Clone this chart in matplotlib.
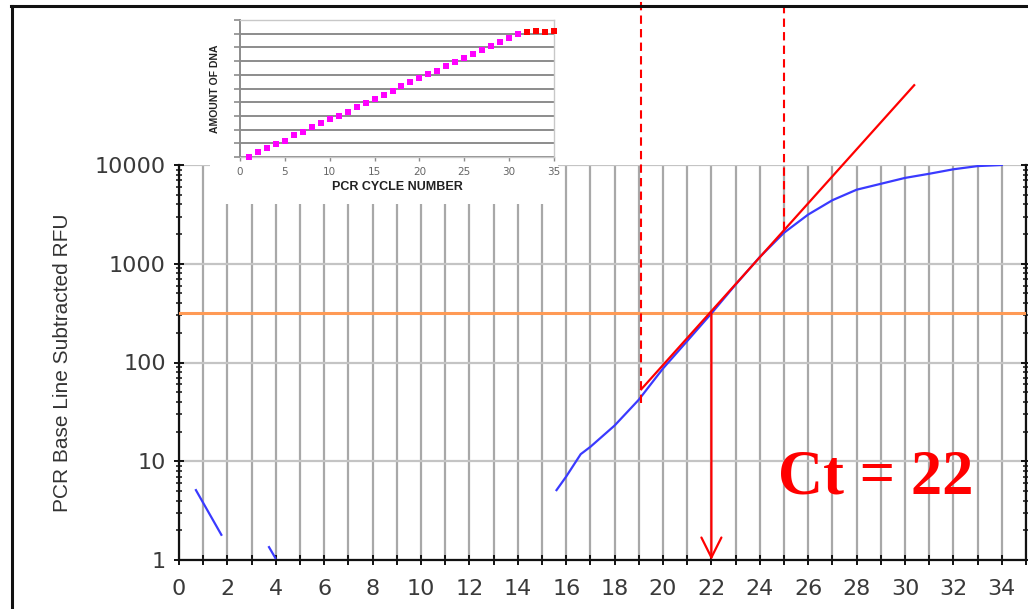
import numpy as np
import matplotlib
matplotlib.use("Agg")
import matplotlib.pyplot as plt
from matplotlib.lines import Line2D
from matplotlib.patches import Rectangle, FancyArrowPatch
from matplotlib.ticker import FixedLocator, NullFormatter, LogLocator

# ---- amplification curve (baseline-subtracted RFU per cycle), three traced pieces
early_cycles = [0.7, 1.75]
early_rfu = [5.1, 1.8]
dip_cycles = [3.72, 3.98]
dip_rfu = [1.35, 1.05]
amp_cycles = [15.6, 16.0, 16.6, 17.0, 18.0, 19.0, 20.0, 21.0, 22.0, 23.0, 24.0,
              25.0, 26.0, 27.0, 28.0, 29.0, 30.0, 31.0, 32.0, 33.0, 34.0]
amp_rfu = [5.1, 7.0, 11.8, 14.0, 23.0, 42.0, 87.0, 165.0, 314.0, 615.0, 1170.0,
           2060.0, 3150.0, 4400.0, 5620.0, 6450.0, 7400.0, 8150.0, 9050.0, 9750.0, 10000.0]

threshold_rfu = 316.0
ct_value = 22
tangent_cycles = [19.1, 30.38]
tangent_rfu = [53.5, 64300.0]
window_cycles = [19.1, 25.0]
window_floor_rfu = [39.0, 2180.0]

x_major_ticks = list(range(0, 35, 2))
x_minor_ticks = list(range(0, 36))
y_major_ticks = [1, 10, 100, 1000, 10000]
y_tick_labels = ["1", "10", "100", "1000", "10000"]

# ---- inset: amount of DNA vs. PCR cycle number
inset_cycles_exp = list(range(1, 32))
inset_amount_exp = [0.0, 0.36, 0.65, 0.97, 1.2, 1.58, 1.8, 2.18, 2.45, 2.8, 3.0, 3.3,
                    3.64, 3.93, 4.2, 4.54, 4.85, 5.15, 5.5, 5.75, 6.07, 6.3, 6.65, 6.9,
                    7.23, 7.5, 7.84, 8.1, 8.4, 8.7, 9.0]
inset_cycles_plateau = [32, 33, 34, 35]
inset_amount_plateau = [9.1, 9.17, 9.15, 9.22]
inset_x_ticks = [0, 5, 10, 15, 20, 25, 30, 35]

W, H = 1028, 609
fig = plt.figure(figsize=(W / 100, H / 100), dpi=100)
fig.patch.set_facecolor("white")

def fx(px):
    return px / W

def fy(py):
    return 1 - py / H

# ---------------- main axes ----------------
ax = fig.add_axes([fx(179), fy(560), fx(1026) - fx(179), fy(165) - fy(560)])
ax.set_zorder(0)
ax.set_yscale("log")
ax.set_xlim(0, 35)
ax.set_ylim(1, 10000)

ax.xaxis.set_major_locator(FixedLocator(x_major_ticks))
ax.xaxis.set_minor_locator(FixedLocator(x_minor_ticks))
ax.xaxis.set_minor_formatter(NullFormatter())
ax.yaxis.set_major_locator(FixedLocator(y_major_ticks))
ax.set_yticklabels(y_tick_labels)
ax.yaxis.set_minor_locator(LogLocator(base=10, subs=np.arange(2, 10)))
ax.yaxis.set_minor_formatter(NullFormatter())

ax.spines["top"].set_visible(False)
for s in ["left", "bottom", "right"]:
    ax.spines[s].set_color("#111111")
    ax.spines[s].set_linewidth(1.6)

ax.tick_params(axis="x", which="both", direction="inout", length=7, width=1.4,
               color="#111111", pad=10, labelsize=16, labelcolor="#3a3a3a")
ax.tick_params(axis="y", which="major", direction="inout", length=7, width=1.4,
               color="#111111", pad=6, labelsize=16, labelcolor="#3a3a3a",
               right=True)
ax.tick_params(axis="y", which="minor", direction="inout", length=5, width=1.1,
               color="#111111", right=True)

ax.grid(True, axis="x", which="both", color="#a8a8a8", linewidth=1.6)
ax.grid(True, axis="y", which="major", color="#c4c4c4", linewidth=1.6)
ax.set_axisbelow(True)

ax.set_ylabel("PCR Base Line Subtracted RFU",
              family=["Liberation Sans Narrow", "Liberation Sans", "DejaVu Sans"],
              fontsize=15, color="#333333", labelpad=16)

# threshold
ax.axhline(threshold_rfu, color="#ff9a55", linewidth=2.2, zorder=3)

# amplification curve
blue = "#3a3aff"
ax.plot(early_cycles, early_rfu, color=blue, lw=1.6, zorder=4)
ax.plot(dip_cycles, dip_rfu, color=blue, lw=1.6, zorder=4)
ax.plot(amp_cycles, amp_rfu, color=blue, lw=1.6, zorder=4)

# tangent to the exponential phase
ax.plot(tangent_cycles, tangent_rfu, color="#ff0000", lw=1.6, zorder=5, clip_on=False)

# dashed window markers reaching the top of the figure
fig.canvas.draw()
y_fig_top = ax.transData.inverted().transform(fig.transFigure.transform((0, 1)))[1]
for cx, y0 in zip(window_cycles, window_floor_rfu):
    ax.plot([cx, cx], [y0, y_fig_top], color="#ff0000", lw=1.5,
            linestyle=(0, (4, 2.5)), zorder=5, clip_on=False)

# Ct arrow
arrow = FancyArrowPatch((ct_value, threshold_rfu), (ct_value, 1),
                        arrowstyle="->,head_length=0.72,head_width=0.36",
                        mutation_scale=20, color="#ff0000", lw=1.6,
                        zorder=6, clip_on=False, shrinkA=0, shrinkB=0)
ax.add_patch(arrow)

ax.text(24.75, 4.66, f"Ct = {ct_value}", color="#ff0000",
        family=["Liberation Serif", "DejaVu Serif"], fontweight="bold",
        fontsize=45, ha="left", va="baseline", zorder=6)

# ---------------- inset ----------------
fig.patches.append(Rectangle((fx(210), fy(204)), fx(558) - fx(210), fy(8) - fy(204),
                             transform=fig.transFigure, facecolor="white",
                             edgecolor="none", zorder=1))

axi = fig.add_axes([fx(240), fy(157), fx(554) - fx(240), fy(20) - fy(157)])
axi.set_zorder(2)
axi.set_xlim(0, 35)
axi.set_ylim(0, 10)
axi.set_xticks(inset_x_ticks)
axi.set_yticks(np.arange(0, 11, 1))
axi.set_yticklabels([])
axi.grid(True, axis="y", color="#8c8c8c", linewidth=1.4)
for s in axi.spines.values():
    s.set_color("#c8c8c8")
    s.set_linewidth(1.0)
axi.spines["left"].set_color("#8c8c8c")
axi.spines["left"].set_linewidth(1.4)
axi.tick_params(axis="x", direction="out", length=3, width=1.0, color="#8c8c8c",
                labelsize=7.5, labelcolor="#666666", pad=4)
axi.tick_params(axis="y", direction="out", length=4, width=1.2, color="#8c8c8c")
axi.set_axisbelow(True)
axi.plot(inset_cycles_exp, inset_amount_exp, linestyle="none", marker="s",
         markersize=4.2, color="#ff00ff", markeredgewidth=0, clip_on=False, zorder=3)
axi.plot(inset_cycles_plateau, inset_amount_plateau, linestyle="none", marker="s",
         markersize=4.2, color="#ff0000", markeredgewidth=0, clip_on=False, zorder=3)
narrow = ["Liberation Sans Narrow", "Liberation Sans", "DejaVu Sans"]
axi.set_xlabel("PCR CYCLE NUMBER", family=narrow, fontweight="bold", fontsize=9,
               color="#222222", labelpad=3)
axi.set_ylabel("AMOUNT OF DNA", family=narrow, fontweight="bold", fontsize=7.5,
               color="#222222", labelpad=7)

# ---------------- figure frame ----------------
fig.lines.append(Line2D([fx(11), 1], [fy(5.5), fy(5.5)], transform=fig.transFigure,
                        color="#111111", lw=2.2, zorder=10))
fig.lines.append(Line2D([fx(11.5), fx(11.5)], [0, fy(5.5)], transform=fig.transFigure,
                        color="#111111", lw=2.2, zorder=10))

fig.savefig("out.png", dpi=100, facecolor="white")
